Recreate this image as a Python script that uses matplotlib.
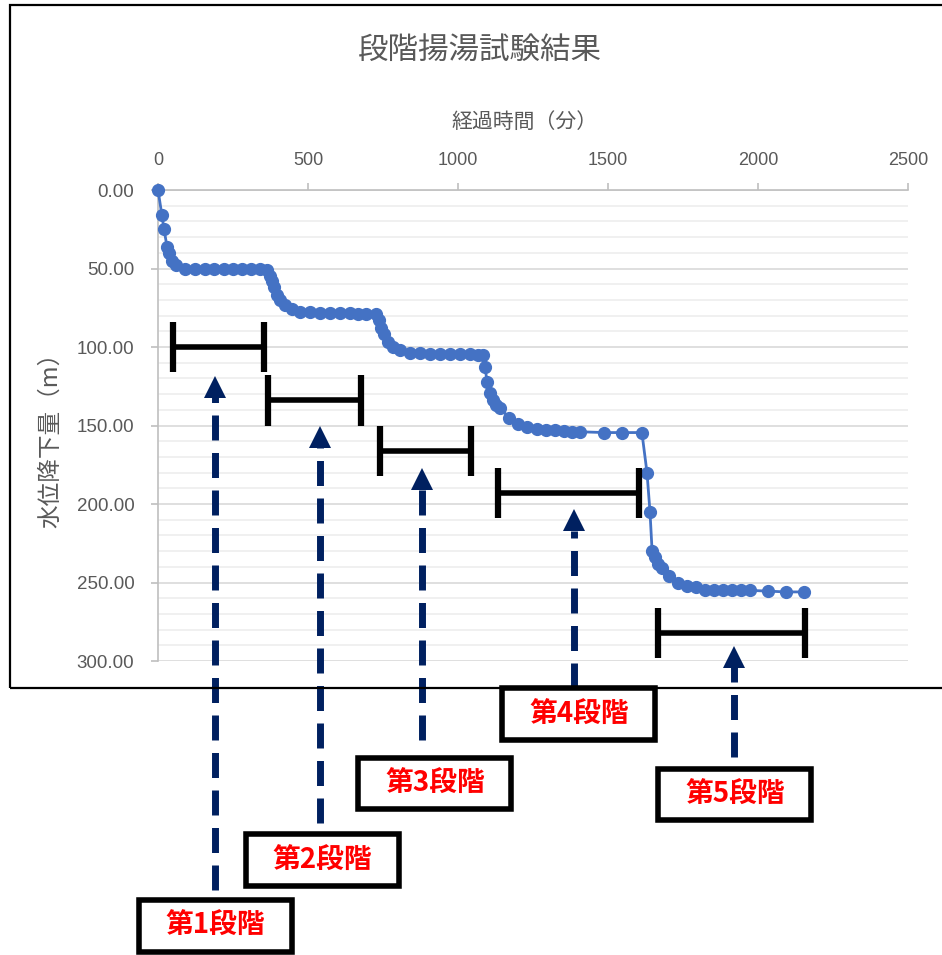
import matplotlib
matplotlib.use("Agg")
import matplotlib.pyplot as plt
from matplotlib.patches import Rectangle
from matplotlib.ticker import MultipleLocator, FormatStrFormatter

# -----------------------------------------------
# 段階揚湯試験 : 経過時間と水位降下量
# -----------------------------------------------

elapsed_min = [0, 13, 20, 30, 37, 47, 60, 90,
               123, 157, 187, 220, 250, 280, 310, 340, 363,
               373, 380, 387, 397, 407, 423, 447,
               473, 507, 540, 573, 607, 640, 667, 693,
               727, 737, 743, 753, 767, 783, 807,
               840, 873, 907, 940, 973, 1007, 1040, 1067,
               1083, 1090, 1097, 1107, 1117, 1127, 1140, 1170, 1200, 1230,
               1263, 1293, 1323, 1353, 1380, 1407, 1487, 1547, 1613,
               1630, 1640, 1647, 1657, 1667, 1680, 1703, 1733, 1763, 1793,
               1823, 1853, 1883, 1913, 1943, 1973, 2033, 2093, 2153]
drawdown_m = [0, 16, 25, 36, 40, 45, 48, 50,
              50.5, 50.5, 50.5, 50.5, 50.5, 50.5, 50.5, 50.5, 51,
              55, 58, 62, 67, 70, 73, 76,
              78, 78, 78.5, 78.5, 78.5, 78.5, 79, 79,
              79, 83, 88, 92, 97, 100, 102,
              104, 104, 104.5, 104.5, 104.5, 104.5, 104.5, 105,
              105, 113, 122, 129, 134, 137, 139, 145, 149, 151,
              152, 153, 153, 153.5, 154, 154, 154.5, 154.5, 154.5,
              180, 205, 230, 234, 238, 241, 246, 250, 252, 253,
              254.5, 254.5, 254.5, 254.5, 254.5, 255, 255.5, 256, 256]

# 各段階の区間 (分) と表示深さ
stage_labels = ["第1段階", "第2段階", "第3段階", "第4段階", "第5段階"]
stage_start = [50, 367, 740, 1133, 1667]
stage_end = [353, 677, 1043, 1603, 2157]
bracket_depth = [100, 134, 166, 193, 282]

# 矢印 (位置・先端・根元) とラベル枠の中心
arrow_x = [190, 540, 880, 1387, 1920]
arrow_tip = [118, 150, 177, 203, 290]
arrow_tail = [446, 403, 350, 317, 361]
box_x = [190, 547, 923, 1403, 1923]
box_y = [469, 427, 378, 334, 385]

CJK = ["Noto Sans CJK JP", "DejaVu Sans"]
NUM = ["Liberation Sans Narrow", "Liberation Sans", "DejaVu Sans"]
GRAY = "#595959"
BLUE = "#4472C4"
NAVY = "#002060"

fig = plt.figure(figsize=(9.42, 9.55), dpi=100)
ax = fig.add_axes([158 / 942, 1 - 661 / 955, 750 / 942, 471 / 955])

# chart frame
fig.add_artist(Rectangle((10 / 942, 1 - 688 / 955), 1.0, 683 / 955,
                         transform=fig.transFigure, fill=False,
                         ec="black", lw=1.6))

ax.plot(elapsed_min, drawdown_m, color=BLUE, lw=2, marker="o",
        markersize=8.5, markerfacecolor=BLUE, markeredgecolor=BLUE,
        clip_on=False, zorder=3)

ax.set_xlim(0, 2500)
ax.set_ylim(300, 0)
ax.xaxis.tick_top()
ax.xaxis.set_label_position("top")
ax.xaxis.set_major_locator(MultipleLocator(500))
ax.yaxis.set_major_locator(MultipleLocator(50))
ax.yaxis.set_minor_locator(MultipleLocator(10))
ax.yaxis.set_major_formatter(FormatStrFormatter("%.2f"))

ax.grid(axis="y", which="major", color="#D9D9D9", lw=1.2, zorder=0)
ax.grid(axis="y", which="minor", color="#EEEEEE", lw=1.2, zorder=0)
ax.set_axisbelow(True)

for side in ["right", "bottom"]:
    ax.spines[side].set_visible(False)
for side in ["left", "top"]:
    ax.spines[side].set_color("#BFBFBF")
    ax.spines[side].set_linewidth(1.2)

ax.tick_params(axis="x", which="major", direction="out", length=5,
               color="#BFBFBF", width=1.2, pad=10, labelcolor=GRAY,
               labelsize=13)
ax.tick_params(axis="y", which="major", direction="out", length=5,
               color="#BFBFBF", width=1.2, pad=12, labelcolor=GRAY,
               labelsize=13.5)
ax.tick_params(axis="y", which="minor", length=0)
for lbl in ax.get_xticklabels() + ax.get_yticklabels():
    lbl.set_family(NUM)

ax.set_xlabel("経過時間（分）", family=CJK, fontsize=15, color=GRAY)
ax.xaxis.set_label_coords(0.489, 1.132)
ax.set_ylabel("水位降下量（m）", family=CJK, fontsize=17, color=GRAY)
ax.yaxis.set_label_coords(-0.128, 0.482)

fig.text(480 / 942, 1 - 50 / 955, "段階揚湯試験結果", family=CJK,
         fontsize=22, color=GRAY, ha="center", va="center")

# stage brackets
for s, e, d in zip(stage_start, stage_end, bracket_depth):
    ax.plot([s, e], [d, d], color="black", lw=4, solid_capstyle="butt",
            zorder=4)
    ax.plot([s, s], [d - 16, d + 16], color="black", lw=4.5,
            solid_capstyle="butt", zorder=4)
    ax.plot([e, e], [d - 16, d + 16], color="black", lw=4.5,
            solid_capstyle="butt", zorder=4)

# dashed arrows and stage labels
for x, tip, tail in zip(arrow_x, arrow_tip, arrow_tail):
    ax.plot([x, x], [tail, tip + 14], color=NAVY, lw=5,
            linestyle=(0, (3.6, 1.8)), clip_on=False, zorder=4)
    ax.plot([x], [tip + 7.3], marker="^", markersize=16.5, color=NAVY,
            markeredgewidth=0, clip_on=False, zorder=5)

for label, cx, cy in zip(stage_labels, box_x, box_y):
    ax.add_patch(Rectangle((cx - 255, cy + 16.5), 510, -33, fill=True,
                           fc="white", ec="black", lw=4, clip_on=False,
                           zorder=6))
    ax.text(cx, cy, label, family=CJK, fontsize=20, fontweight="bold",
            color="#FF0000", ha="center", va="center", clip_on=False,
            zorder=7)

fig.savefig("out.png", dpi=100)
